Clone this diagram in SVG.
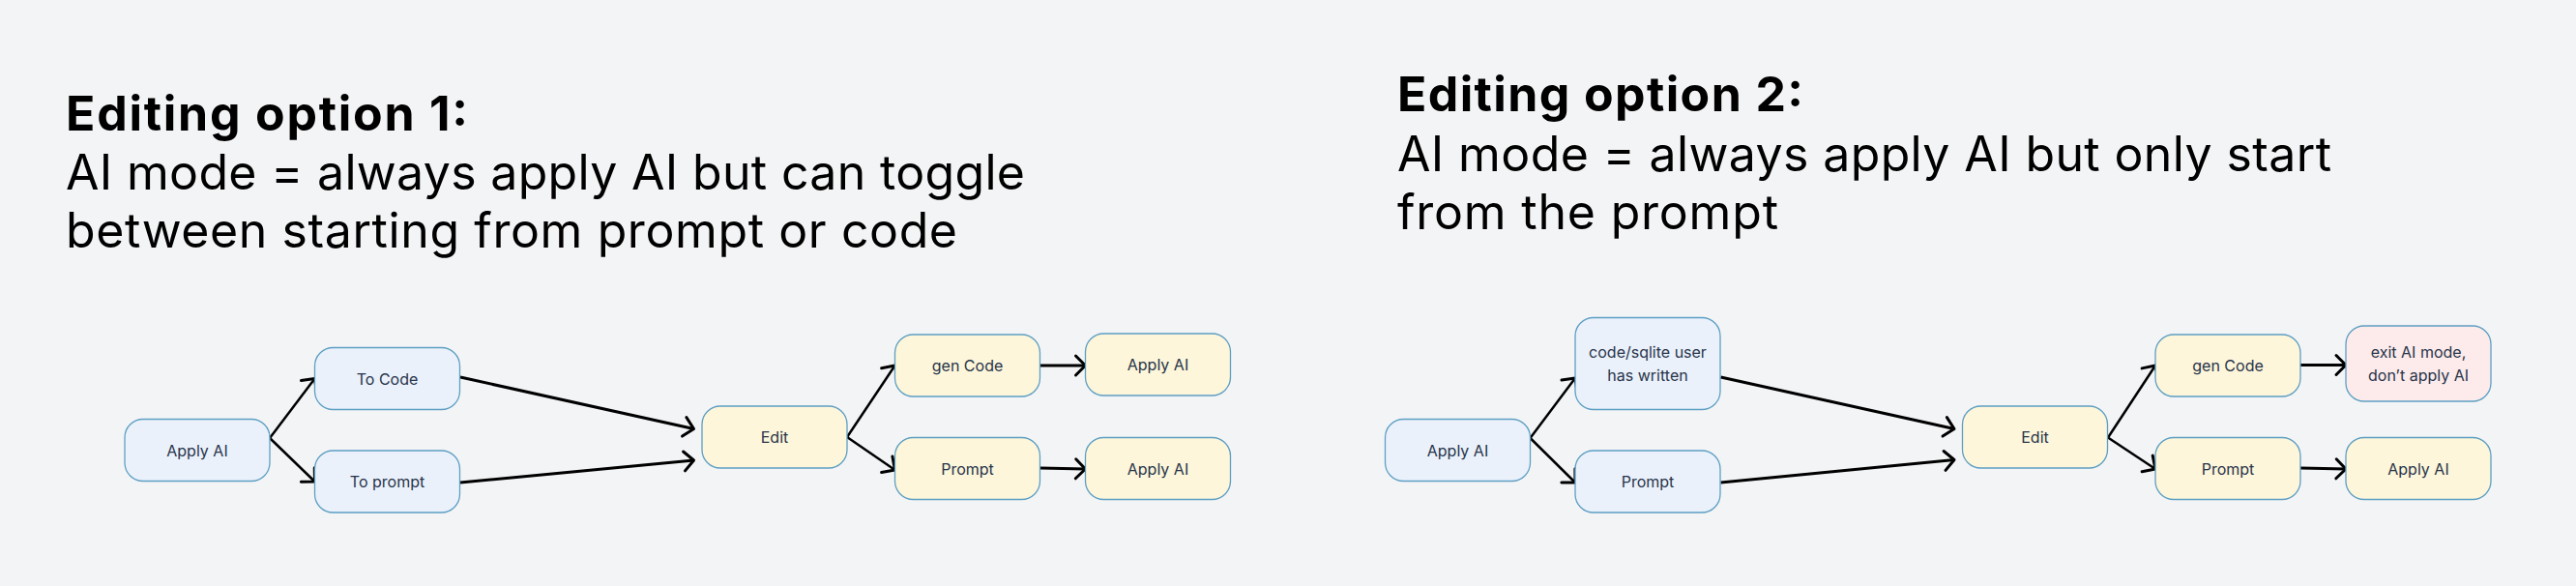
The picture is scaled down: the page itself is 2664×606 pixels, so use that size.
<svg xmlns="http://www.w3.org/2000/svg" width="2664" height="606" viewBox="0 0 2664 606">
<style>
.bg{fill:#f3f4f6}
.title{font-family:Inter,"Liberation Sans",sans-serif;font-size:50px;fill:#000}
.b{font-weight:700}
.node rect{stroke:#5d9fc3;stroke-width:1.3}
.blue rect{fill:#eaf1fb}
.yellow rect{fill:#fdf6da}
.pink rect{fill:#fcebea}
.node text{font-family:Inter,"Liberation Sans",sans-serif;font-size:16px;fill:#28344a;text-anchor:middle}
.edge{stroke:#000;stroke-width:3;fill:none;marker-end:url(#arr)}
.thin{stroke-width:2.5}
</style>
<defs>
<marker id="arr" markerUnits="userSpaceOnUse" viewBox="-14 -14 28 28" markerWidth="28" markerHeight="28" refX="0" refY="0" orient="auto" overflow="visible">
<path d="M-10,-10 L0,0 L-10,10" fill="none" stroke="#000" stroke-width="3" stroke-linecap="round" stroke-linejoin="round"/>
</marker>
</defs>
<rect class="bg" x="0" y="0" width="2664" height="606"/>
<g id="title1">
<text class="title b" x="68" y="135" textLength="416" lengthAdjust="spacing">Editing option 1:</text>
<text class="title" x="68" y="195.5" textLength="992" lengthAdjust="spacing">AI mode = always apply AI but can toggle</text>
<text class="title" x="68" y="256" textLength="922" lengthAdjust="spacing">between starting from prompt or code</text>
</g>
<g id="title2">
<text class="title b" x="1445" y="115" textLength="420" lengthAdjust="spacing">Editing option 2:</text>
<text class="title" x="1445" y="177" textLength="966" lengthAdjust="spacing">AI mode = always apply AI but only start</text>
<text class="title" x="1445" y="237" textLength="394" lengthAdjust="spacing">from the prompt</text>
</g>
<g id="connectors">
<path class="edge thin" d="M279,453 L325.5,391.5"/>
<path class="edge thin" d="M279,453 L325.5,498"/>
<path class="edge" d="M476,390 L717.5,443.5"/>
<path class="edge" d="M476,499 L717.5,476"/>
<path class="edge thin" d="M876,452 L925.5,378"/>
<path class="edge thin" d="M876,452 L925.5,486"/>
<path class="edge" d="M1075.5,378 L1122.5,378"/>
<path class="edge" d="M1075.5,484 L1122.5,485"/>
<path class="edge thin" d="M1582.5,453 L1629,391"/>
<path class="edge thin" d="M1582.5,453 L1629,499"/>
<path class="edge" d="M1779.5,390 L2021,443.5"/>
<path class="edge" d="M1779.5,499 L2021,475.5"/>
<path class="edge thin" d="M2180,452.5 L2229,378"/>
<path class="edge thin" d="M2180,452.5 L2229,485"/>
<path class="edge" d="M2379,377.5 L2426,377.5"/>
<path class="edge" d="M2379,484 L2426,485"/>
</g>
<g id="n1-apply" class="node blue"><rect x="129" y="433.5" width="150" height="64" rx="19"/><text x="204" y="471.5">Apply AI</text></g>
<g id="n1-tocode" class="node blue"><rect x="325.5" y="359.5" width="150" height="64" rx="19"/><text x="400.5" y="397.5">To Code</text></g>
<g id="n1-toprompt" class="node blue"><rect x="325.5" y="466" width="150" height="64" rx="19"/><text x="400.5" y="504">To prompt</text></g>
<g id="n1-edit" class="node yellow"><rect x="726" y="420" width="150" height="64" rx="19"/><text x="801" y="458">Edit</text></g>
<g id="n1-gencode" class="node yellow"><rect x="925.5" y="346" width="150" height="64" rx="19"/><text x="1000.5" y="384">gen Code</text></g>
<g id="n1-apply2" class="node yellow"><rect x="1122.5" y="345" width="150" height="64" rx="19"/><text x="1197.5" y="383">Apply AI</text></g>
<g id="n1-prompt" class="node yellow"><rect x="925.5" y="452.5" width="150" height="64" rx="19"/><text x="1000.5" y="490.5">Prompt</text></g>
<g id="n1-apply3" class="node yellow"><rect x="1122.5" y="452.5" width="150" height="64" rx="19"/><text x="1197.5" y="490.5">Apply AI</text></g>
<g id="n2-apply" class="node blue"><rect x="1432.5" y="433.5" width="150" height="64" rx="19"/><text x="1507.5" y="471.5">Apply AI</text></g>
<g id="n2-code" class="node blue"><rect x="1629" y="328.5" width="150" height="95" rx="19"/><text x="1704" y="369.5">code/sqlite user</text><text x="1704" y="393.5">has written</text></g>
<g id="n2-prompt" class="node blue"><rect x="1629" y="466" width="150" height="64" rx="19"/><text x="1704" y="504">Prompt</text></g>
<g id="n2-edit" class="node yellow"><rect x="2029.5" y="420" width="150" height="64" rx="19"/><text x="2104.5" y="458">Edit</text></g>
<g id="n2-gencode" class="node yellow"><rect x="2229" y="346" width="150" height="64" rx="19"/><text x="2304" y="384">gen Code</text></g>
<g id="n2-exit" class="node pink"><rect x="2426" y="337" width="150" height="78" rx="19"/><text x="2501" y="370">exit AI mode,</text><text x="2501" y="394">don’t apply AI</text></g>
<g id="n2-prompt2" class="node yellow"><rect x="2229" y="452.5" width="150" height="64" rx="19"/><text x="2304" y="490.5">Prompt</text></g>
<g id="n2-apply2" class="node yellow"><rect x="2426" y="452.5" width="150" height="64" rx="19"/><text x="2501" y="490.5">Apply AI</text></g>
</svg>
